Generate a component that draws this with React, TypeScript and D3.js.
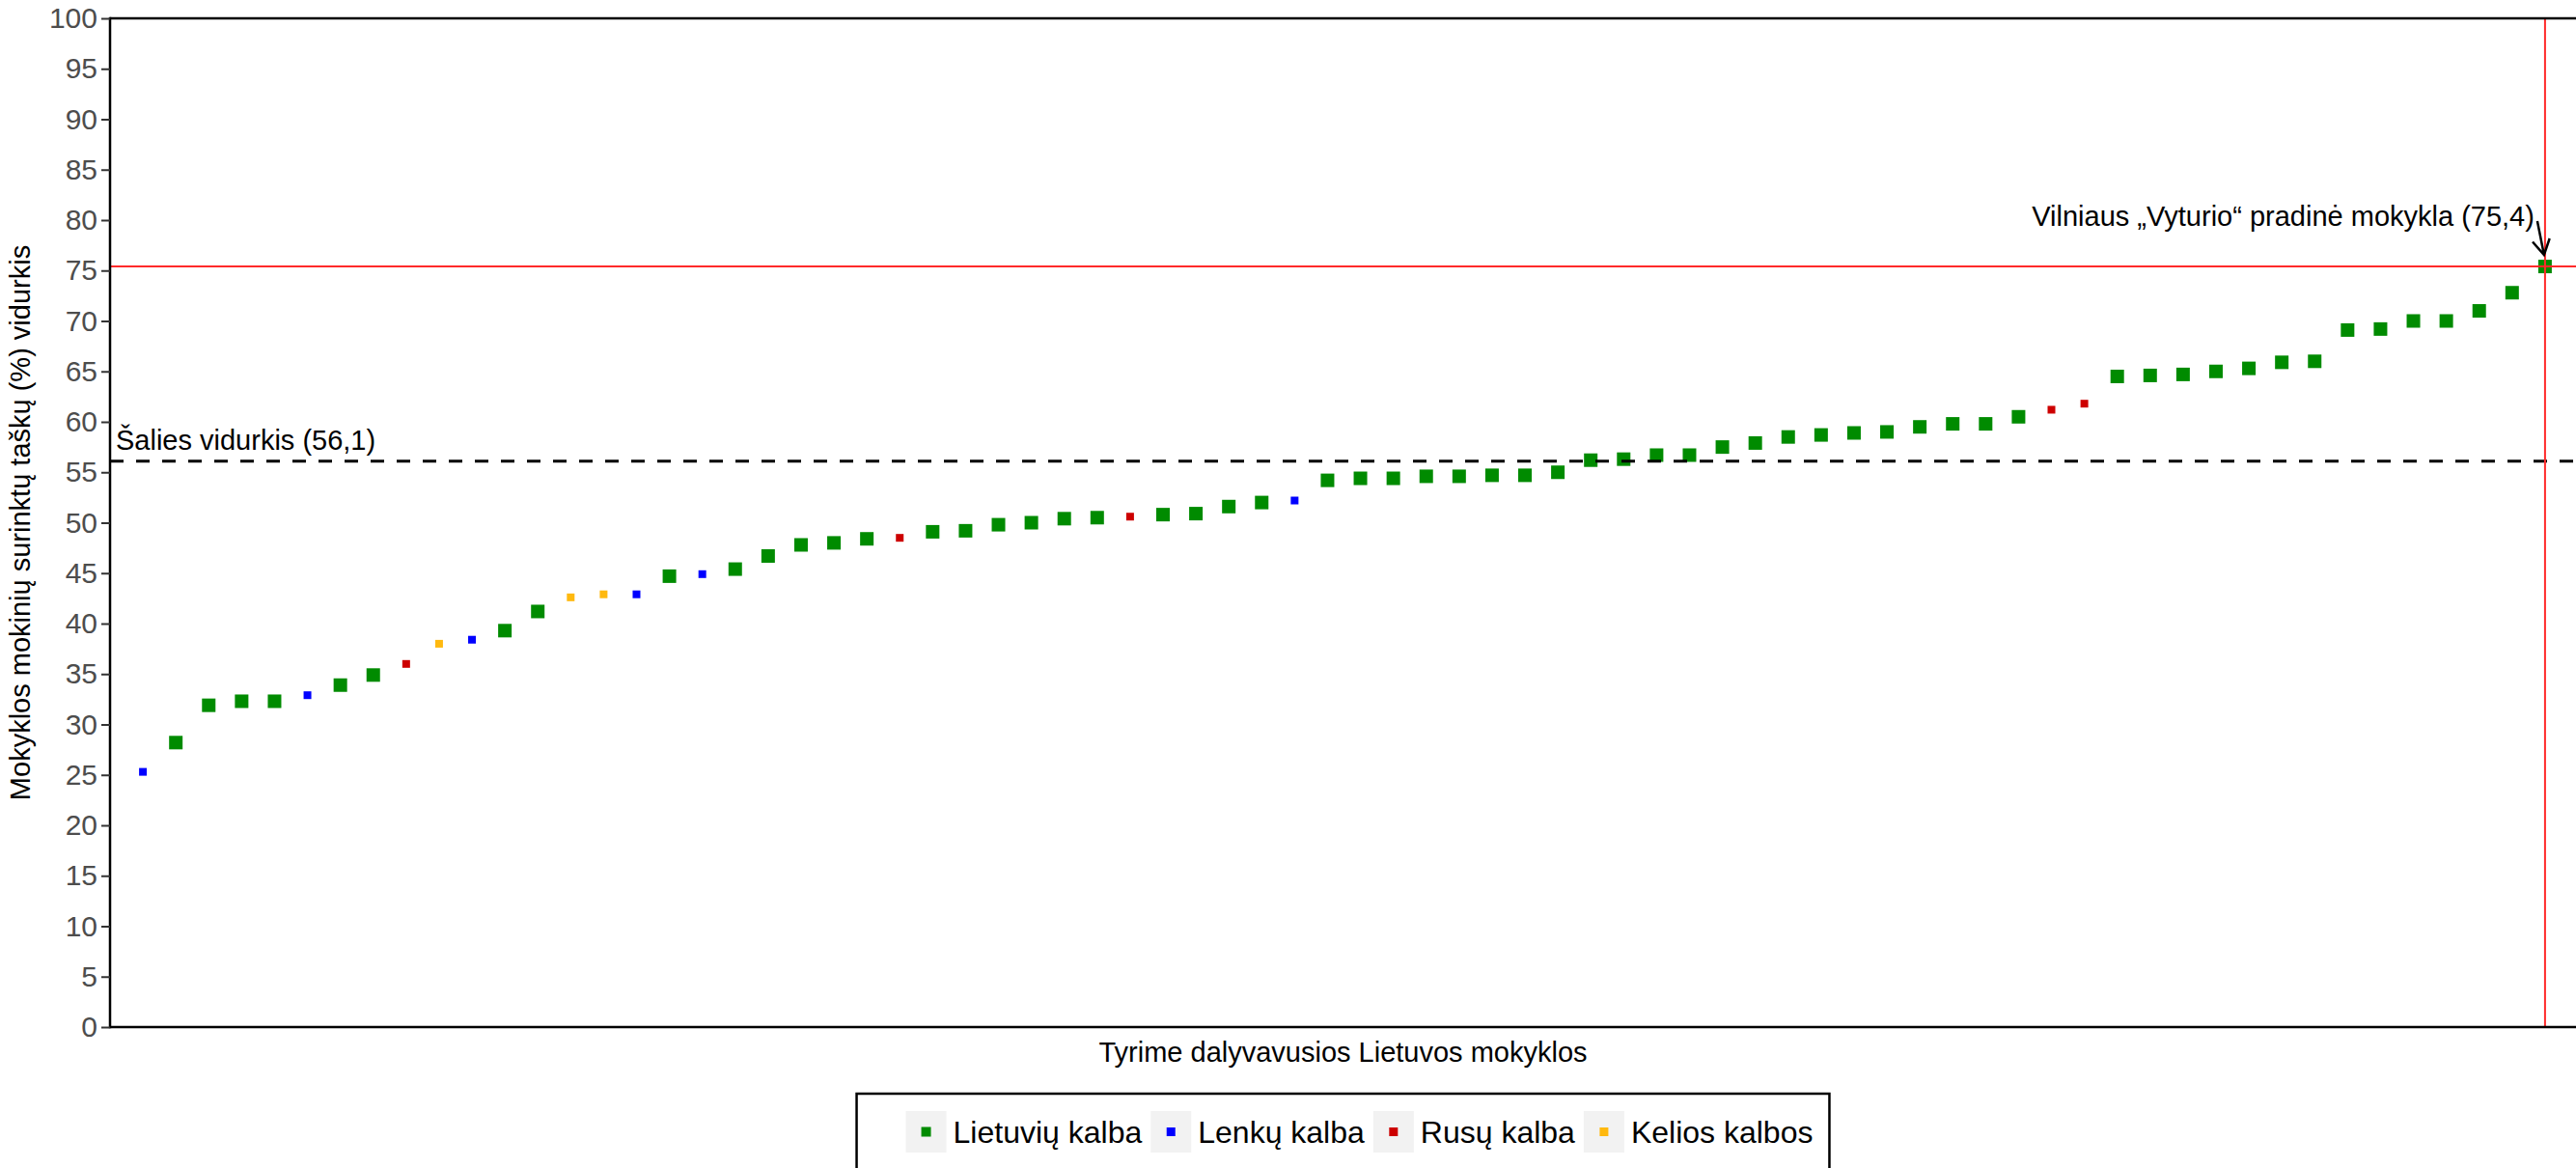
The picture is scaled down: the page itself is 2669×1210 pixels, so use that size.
import { useRef, useEffect } from 'react';
import * as d3 from 'd3';

// Mokyklų vidurkiai (surikiuoti didėjančiai)
const scores = [
  25.3, 28.2, 31.9, 32.3, 32.3, 32.9, 33.9, 34.9, 36.0, 38.0,
  38.4, 39.3, 41.2, 42.6, 42.9, 42.9, 44.7, 44.9, 45.4, 46.7,
  47.8, 48.0, 48.4, 48.5, 49.1, 49.2, 49.8, 50.0, 50.4, 50.5,
  50.6, 50.8, 50.9, 51.6, 52.0, 52.2, 54.2, 54.4, 54.4, 54.6,
  54.6, 54.7, 54.7, 55.0, 56.2, 56.3, 56.7, 56.7, 57.5, 57.9,
  58.5, 58.7, 58.9, 59.0, 59.5, 59.8, 59.8, 60.5, 61.2, 61.8,
  64.5, 64.6, 64.7, 65.0, 65.3, 65.9, 66.0, 69.1, 69.2, 70.0,
  70.0, 71.0, 72.8, 75.4,
];

// L = lietuvių, P = lenkų, R = rusų, K = kelios kalbos
const languages = [
  'P', 'L', 'L', 'L', 'L', 'P', 'L', 'L', 'R', 'K',
  'P', 'L', 'L', 'K', 'K', 'P', 'L', 'P', 'L', 'L',
  'L', 'L', 'L', 'R', 'L', 'L', 'L', 'L', 'L', 'L',
  'R', 'L', 'L', 'L', 'L', 'P', 'L', 'L', 'L', 'L',
  'L', 'L', 'L', 'L', 'L', 'L', 'L', 'L', 'L', 'L',
  'L', 'L', 'L', 'L', 'L', 'L', 'L', 'L', 'R', 'R',
  'L', 'L', 'L', 'L', 'L', 'L', 'L', 'L', 'L', 'L',
  'L', 'L', 'L', 'L',
];

const languageKeys = ['L', 'P', 'R', 'K'];
const languageNames = ['Lietuvių kalba', 'Lenkų kalba', 'Rusų kalba', 'Kelios kalbos'];
const languageColors = ['#008B00', '#0000FF', '#CD0000', '#FFB90F'];

const yTicks = [0, 5, 10, 15, 20, 25, 30, 35, 40, 45, 50, 55, 60, 65, 70, 75, 80, 85, 90, 95, 100];

const nationalAverage = 56.1;
const highlightName = 'Vilniaus „Vyturio“ pradinė mokykla';
const highlightIndex = 74;

const yTitle = 'Mokyklos mokinių surinktų taškų (%) vidurkis';
const xTitle = 'Tyrime dalyvavusios Lietuvos mokyklos';

const FONT = '"Liberation Sans", Arial, Helvetica, sans-serif';
const fmt = (v: number) => v.toFixed(1).replace('.', ',');

export default function App() {
  const svgRef = useRef<SVGSVGElement>(null);
  const width = 2669;
  const height = 1210;

  useEffect(() => {
    document.body.style.margin = '0';
    document.body.style.overflow = 'hidden';
    if (!svgRef.current) return;

    const svg = d3.select(svgRef.current);
    svg.selectAll('*').remove();

    const left = 114;
    const top = 19;
    const bottom = 1064;
    const right = width;

    const xScale = d3.scaleLinear().domain([0, 75]).range([left, 2671]);
    const yScale = d3.scaleLinear().domain([0, 100]).range([bottom, top]);

    const color = d3.scaleOrdinal<string, string>().domain(languageKeys).range(languageColors);

    const points = scores.map((v, i) => ({ idx: i + 1, value: v, lang: languages[i] }));

    // Points
    svg.append('g')
      .selectAll('rect')
      .data(points)
      .join('rect')
      .each(function (d) {
        const s = d.lang === 'L' ? 14 : 8;
        d3.select(this)
          .attr('x', xScale(d.idx) - s / 2)
          .attr('y', yScale(d.value) - s / 2)
          .attr('width', s)
          .attr('height', s)
          .attr('fill', color(d.lang));
      });

    // National average line
    svg.append('line')
      .attr('x1', left)
      .attr('x2', right)
      .attr('y1', yScale(nationalAverage))
      .attr('y2', yScale(nationalAverage))
      .attr('stroke', '#000')
      .attr('stroke-width', 3)
      .attr('stroke-dasharray', '14,13');

    svg.append('text')
      .attr('x', left + 6)
      .attr('y', yScale(nationalAverage) - 12)
      .attr('font-family', FONT)
      .attr('font-size', 29)
      .attr('fill', '#000')
      .text(`Šalies vidurkis (${fmt(nationalAverage)})`);

    // Highlighted school
    const hv = scores[highlightIndex - 1];
    const hx = xScale(highlightIndex);
    const hy = yScale(hv);

    svg.append('line')
      .attr('x1', left).attr('x2', right)
      .attr('y1', hy).attr('y2', hy)
      .attr('stroke', '#FF2A2A').attr('stroke-width', 2);

    svg.append('line')
      .attr('x1', hx).attr('x2', hx)
      .attr('y1', top).attr('y2', bottom)
      .attr('stroke', '#FF2A2A').attr('stroke-width', 2);

    svg.append('text')
      .attr('x', hx - 11)
      .attr('y', hy - 42)
      .attr('text-anchor', 'end')
      .attr('font-family', FONT)
      .attr('font-size', 29)
      .attr('fill', '#000')
      .text(`${highlightName} (${fmt(hv)})`);

    // Arrow
    const start: [number, number] = [hx - 8, hy - 47];
    const tip: [number, number] = [hx - 1, hy - 12];
    const ang = Math.atan2(tip[1] - start[1], tip[0] - start[0]);
    const armLen = 18;
    const arm = (a: number) => [tip[0] - armLen * Math.cos(ang + a), tip[1] - armLen * Math.sin(ang + a)];
    const a1 = arm(Math.PI / 6);
    const a2 = arm(-Math.PI / 6);
    svg.append('path')
      .attr('d', `M${start[0]},${start[1]}L${tip[0]},${tip[1]}M${a1[0]},${a1[1]}L${tip[0]},${tip[1]}L${a2[0]},${a2[1]}`)
      .attr('fill', 'none')
      .attr('stroke', '#000')
      .attr('stroke-width', 2.5);

    // Frame lines
    svg.append('line')
      .attr('x1', left).attr('x2', right)
      .attr('y1', top).attr('y2', top)
      .attr('stroke', '#000').attr('stroke-width', 2.5);
    svg.append('line')
      .attr('x1', left).attr('x2', right)
      .attr('y1', bottom).attr('y2', bottom)
      .attr('stroke', '#000').attr('stroke-width', 2.5);
    svg.append('line')
      .attr('x1', left).attr('x2', left)
      .attr('y1', top - 1.25).attr('y2', bottom + 1.25)
      .attr('stroke', '#000').attr('stroke-width', 2.5);

    // Y axis
    const yAxis = svg.append('g')
      .attr('transform', `translate(${left},0)`)
      .call(d3.axisLeft(yScale).tickValues(yTicks).tickSize(9).tickPadding(4).tickFormat(d => `${d}`));
    yAxis.select('.domain').remove();
    yAxis.selectAll('.tick line').attr('stroke', '#333').attr('stroke-width', 2);
    yAxis.selectAll('.tick text')
      .attr('fill', '#4D4D4D')
      .attr('font-size', 30)
      .attr('font-family', FONT);

    // Axis titles
    svg.append('text')
      .attr('transform', `translate(31,${(top + bottom) / 2}) rotate(-90)`)
      .attr('text-anchor', 'middle')
      .attr('font-family', FONT)
      .attr('font-size', 29)
      .attr('fill', '#000')
      .text(yTitle);

    svg.append('text')
      .attr('x', (left + right) / 2)
      .attr('y', 1100)
      .attr('text-anchor', 'middle')
      .attr('font-family', FONT)
      .attr('font-size', 29)
      .attr('fill', '#000')
      .text(xTitle);

    // Legend
    const legend = svg.append('g');
    const box = legend.append('rect')
      .attr('fill', '#fff')
      .attr('stroke', '#000')
      .attr('stroke-width', 2.5);
    const keyW = 42;
    const keyH = 43;
    const keyTop = 1151;
    let cx = 0;
    const items = languageKeys.map((k, i) => {
      const g = legend.append('g');
      g.append('rect')
        .attr('x', cx).attr('y', keyTop)
        .attr('width', keyW).attr('height', keyH)
        .attr('fill', '#F2F2F2');
      const s = k === 'L' ? 10 : 9;
      g.append('rect')
        .attr('x', cx + keyW / 2 - s / 2)
        .attr('y', keyTop + keyH / 2 - s / 2)
        .attr('width', s).attr('height', s)
        .attr('fill', color(k));
      const t = g.append('text')
        .attr('x', cx + keyW + 7)
        .attr('y', keyTop + keyH / 2 + 11)
        .attr('font-family', FONT)
        .attr('font-size', 32)
        .attr('fill', '#000')
        .text(languageNames[i]);
      const tw = (t.node() as SVGTextElement).getComputedTextLength();
      cx += keyW + 7 + tw + 9;
      return g;
    });
    const contentW = cx - 9;
    const boxW = 51 + contentW + 17;
    const boxLeft = (left + right) / 2 - boxW / 2;
    box.attr('x', boxLeft).attr('y', 1133).attr('width', boxW).attr('height', 140);
    items.forEach(g => g.attr('transform', `translate(${boxLeft + 51},0)`));
  }, []);

  return (
    <div style={{ position: 'absolute', left: 0, top: 0, width, height, background: '#fff' }}>
      <svg ref={svgRef} width={width} height={height} style={{ display: 'block' }} />
    </div>
  );
}
